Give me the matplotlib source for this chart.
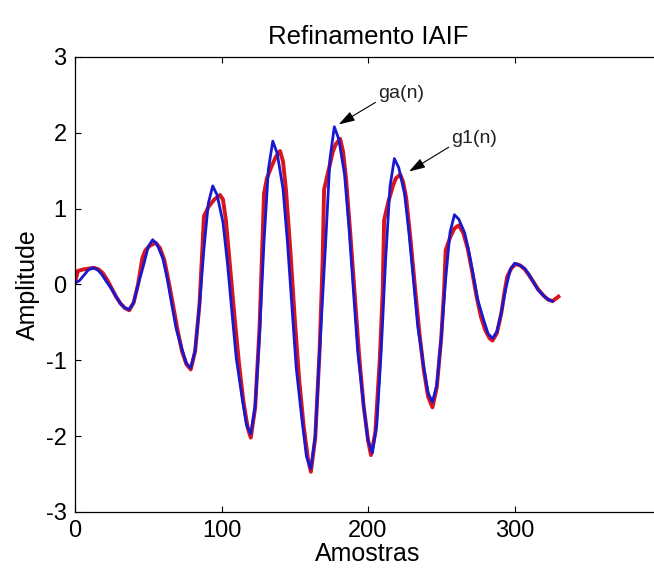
import numpy as np
import matplotlib
matplotlib.use('Agg')
import matplotlib.pyplot as plt

plt.rcParams['font.family'] = ['Liberation Sans', 'DejaVu Sans']
plt.rcParams['axes.unicode_minus'] = False

# sinal ga(n) (azul)
ga_n = [0, 3, 6, 9, 12,
        15, 18, 21, 25, 28, 31, 34, 37,
        40, 43, 47, 50, 53,
        56, 60, 63, 66, 69, 73, 76, 79,
        82, 85, 88, 91, 94,
        97, 101, 104, 107, 110, 114, 117, 120,
        123, 126, 129, 132, 135,
        138, 142, 145, 148, 151, 155, 158, 161,
        164, 167, 171, 174, 177,
        180, 184, 187, 190, 193, 197, 200, 203,
        206, 209, 212, 215, 218,
        221, 225, 228, 231, 234, 238, 241, 244,
        247, 250, 253, 256, 259,
        262, 266, 269, 272, 275, 279, 282, 285,
        288, 291, 294, 297, 300,
        303, 307, 310, 313, 316, 320, 323, 326]
ga_amp = [0.02, 0.05, 0.12, 0.19, 0.22,
          0.20, 0.14, 0.05, -0.06, -0.16, -0.25, -0.31, -0.33,
          -0.24, -0.01, 0.27, 0.50, 0.59,
          0.53, 0.34, 0.07, -0.26, -0.58, -0.85, -1.04, -1.10,
          -0.87, -0.27, 0.47, 1.07, 1.30,
          1.18, 0.82, 0.29, -0.34, -0.96, -1.49, -1.85, -1.97,
          -1.60, -0.64, 0.56, 1.52, 1.89,
          1.73, 1.26, 0.56, -0.27, -1.10, -1.80, -2.27, -2.43,
          -2.00, -0.87, 0.52, 1.65, 2.08,
          1.92, 1.45, 0.75, -0.07, -0.89, -1.59, -2.06, -2.22,
          -1.85, -0.88, 0.32, 1.29, 1.66,
          1.54, 1.19, 0.67, 0.06, -0.56, -1.08, -1.43, -1.55,
          -1.32, -0.70, 0.07, 0.69, 0.92,
          0.86, 0.68, 0.42, 0.11, -0.21, -0.47, -0.65, -0.71,
          -0.62, -0.37, -0.06, 0.19, 0.28,
          0.26, 0.21, 0.13, 0.03, -0.07, -0.15, -0.20, -0.22]

# sinal g1(n) (vermelho)
g1_n = [0, 2, 6, 13,
        16, 19, 22, 25, 28, 31, 34, 37,
        40, 43, 46, 48, 51, 55,
        58, 61, 64, 67, 70, 73, 76, 79,
        82, 85, 87, 88, 91, 95, 99,
        101, 103, 106, 109, 112, 115, 118, 120,
        123, 126, 128, 129, 131, 134, 137, 140,
        142, 144, 147, 150, 153, 156, 159, 161,
        164, 167, 169, 170, 173, 176, 178, 181,
        183, 185, 188, 191, 194, 197, 200, 202,
        205, 208, 210, 211, 214, 217, 219, 222,
        224, 226, 229, 232, 235, 238, 241, 244,
        247, 250, 252, 253, 256, 259, 262,
        265, 268, 271, 274, 277, 280, 283, 285,
        288, 291, 293, 295, 298, 301,
        304, 307, 310, 313, 316, 320, 323, 326, 330]
g1_amp = [0.03, 0.18, 0.20, 0.22,
          0.20, 0.15, 0.06, -0.05, -0.16, -0.25, -0.31, -0.34,
          -0.24, 0.00, 0.35, 0.45, 0.51, 0.55,
          0.48, 0.32, 0.03, -0.28, -0.60, -0.88, -1.05, -1.12,
          -0.88, -0.25, 0.50, 0.90, 1.02, 1.12, 1.18,
          1.12, 0.85, 0.20, -0.45, -1.05, -1.55, -1.90, -2.02,
          -1.62, -0.55, 0.60, 1.20, 1.40, 1.55, 1.68, 1.76,
          1.62, 1.25, 0.45, -0.45, -1.25, -1.85, -2.30, -2.47,
          -2.02, -0.85, 0.30, 1.25, 1.50, 1.75, 1.85, 1.92,
          1.75, 1.40, 0.65, -0.15, -0.95, -1.60, -2.05, -2.25,
          -1.95, -1.00, -0.10, 0.85, 1.10, 1.30, 1.40, 1.45,
          1.35, 1.15, 0.60, -0.02, -0.62, -1.12, -1.48, -1.62,
          -1.35, -0.70, -0.05, 0.45, 0.62, 0.74, 0.78,
          0.68, 0.48, 0.18, -0.15, -0.42, -0.60, -0.71, -0.74,
          -0.64, -0.38, -0.12, 0.10, 0.22, 0.27,
          0.25, 0.20, 0.12, 0.03, -0.06, -0.15, -0.20, -0.22, -0.16]

x_ticks = [0, 100, 200, 300]
y_ticks = [-3, -2, -1, 0, 1, 2, 3]


fig = plt.figure(figsize=(6.54, 5.72), dpi=100)
# eixo direito fica fora da figura (x ate 400)
ax = fig.add_axes([0.1147, 0.1049, 0.896, 0.7955])

ax.plot(g1_n, g1_amp, color='#d8141e', lw=2.8, solid_joinstyle='round')
ax.plot(ga_n, ga_amp, color='#1818d0', lw=2.0, solid_joinstyle='round')

ax.set_xlim(0, 400)
ax.set_ylim(-3, 3)
ax.set_xticks(x_ticks)
ax.set_yticks(y_ticks)
ax.tick_params(direction='in', length=4.5, width=0.8, top=True, right=True,
               labelsize=17, pad=6)
for s in ax.spines.values():
    s.set_linewidth(0.9)

ax.set_title('Refinamento IAIF', fontsize=18.5, pad=9)
ax.set_xlabel('Amostras', fontsize=18, labelpad=0)
ax.set_ylabel('Amplitude', fontsize=18, labelpad=4)

arrow = dict(arrowstyle='-|>,head_length=0.7,head_width=0.22', color='k', lw=0.8,
             shrinkA=0, shrinkB=0)
ax.annotate('ga(n)', xy=(180, 2.11), xytext=(207, 2.52), fontsize=14, ha='left',
            va='center', color='#222222', arrowprops=dict(arrow, relpos=(0.05, 0.15)))
ax.annotate('g1(n)', xy=(228, 1.49), xytext=(257, 1.93), fontsize=14, ha='left',
            va='center', color='#222222', arrowprops=dict(arrow, relpos=(0.05, 0.15)))

fig.savefig('out.png', dpi=100)
